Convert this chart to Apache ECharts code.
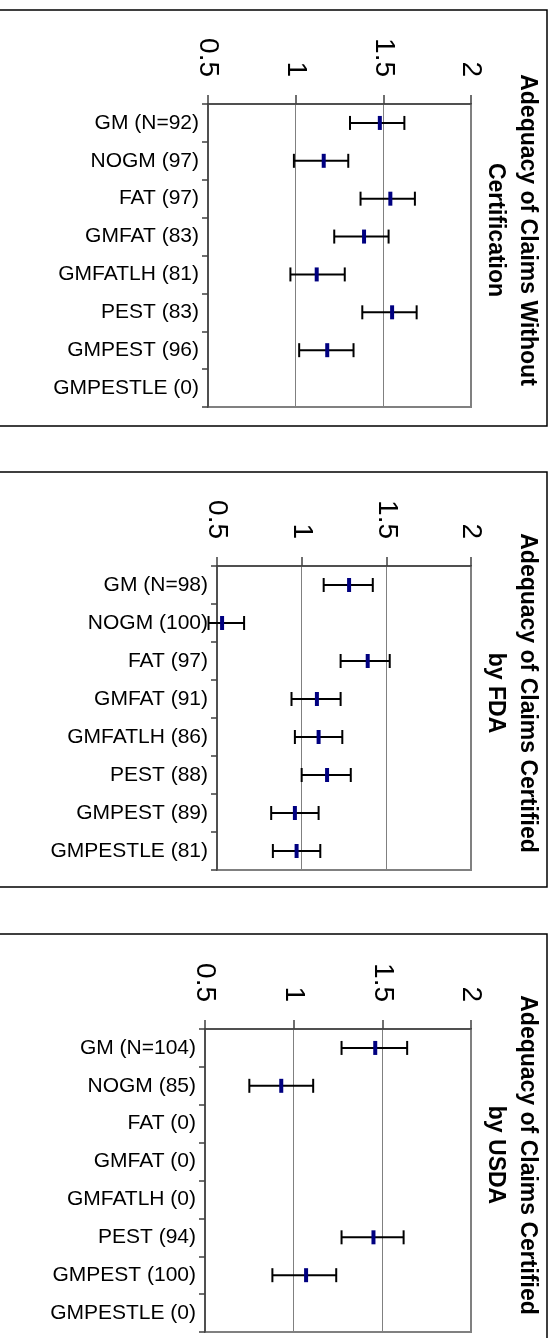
<!DOCTYPE html>
<html>
<head>
<meta charset="utf-8">
<title>Adequacy of Claims</title>
<script src="https://cdn.jsdelivr.net/npm/echarts@6/dist/echarts.min.js"></script>
<style>
  html, body { margin: 0; padding: 0; background: #fff; }
  #chart { width: 557px; height: 1338px; }
</style>
</head>
<body>
<div id="chart"></div>
<script>
// Value axis ticks shared by all three panels
const valueTicks = [0.5, 1, 1.5, 2];

// Panel 1: claims without certification
const titleNoCert = ['Adequacy of Claims Without', 'Certification'];
const catsNoCert = ['GM (N=92)', 'NOGM (97)', 'FAT (97)', 'GMFAT (83)', 'GMFATLH (81)', 'PEST (83)', 'GMPEST (96)', 'GMPESTLE (0)'];
const meanNoCert = [1.48, 1.16, 1.54, 1.39, 1.12, 1.55, 1.18, null];
const lowNoCert  = [1.31, 0.99, 1.37, 1.22, 0.97, 1.38, 1.02, null];
const highNoCert = [1.62, 1.30, 1.68, 1.53, 1.28, 1.69, 1.33, null];

// Panel 2: claims certified by FDA
const titleFda = ['Adequacy of Claims Certified', 'by FDA'];
const catsFda = ['GM (N=98)', 'NOGM (100)', 'FAT (97)', 'GMFAT (91)', 'GMFATLH (86)', 'PEST (88)', 'GMPEST (89)', 'GMPESTLE (81)'];
const meanFda = [1.28, 0.53, 1.39, 1.09, 1.10, 1.15, 0.96, 0.97];
const lowFda  = [1.13, 0.45, 1.23, 0.94, 0.96, 1.00, 0.82, 0.83];
const highFda = [1.42, 0.66, 1.52, 1.23, 1.24, 1.29, 1.10, 1.11];

// Panel 3: claims certified by USDA
const titleUsda = ['Adequacy of Claims Certified', 'by USDA'];
const catsUsda = ['GM (N=104)', 'NOGM (85)', 'FAT (0)', 'GMFAT (0)', 'GMFATLH (0)', 'PEST (94)', 'GMPEST (100)', 'GMPESTLE (0)'];
const meanUsda = [1.46, 0.93, null, null, null, 1.45, 1.07, null];
const lowUsda  = [1.27, 0.75, null, null, null, 1.27, 0.88, null];
const highUsda = [1.64, 1.11, null, null, null, 1.62, 1.24, null];

const FONT = '"Liberation Sans", Arial, Helvetica, sans-serif';

const panels = [
  { title: titleNoCert, cats: catsNoCert, mean: meanNoCert, low: lowNoCert, high: highNoCert,
    grid: { left: 208, top: 104, width: 263, height: 303 }, box: { y: 10, h: 416 }, titleY: 230 },
  { title: titleFda, cats: catsFda, mean: meanFda, low: lowFda, high: highFda,
    grid: { left: 217, top: 566, width: 254, height: 304 }, box: { y: 472, h: 415 }, titleY: 693 },
  { title: titleUsda, cats: catsUsda, mean: meanUsda, low: lowUsda, high: highUsda,
    grid: { left: 205, top: 1029, width: 266, height: 303 }, box: { y: 934, h: 430 }, titleY: 1155 }
];

// Whisker from low to high with end caps, plus a short navy bar at the mean
function errorBar(params, api) {
  const cat = api.value(0);
  const pMean = api.coord([api.value(1), cat]);
  const pLow = api.coord([api.value(2), cat]);
  const pHigh = api.coord([api.value(3), cat]);
  const y = pMean[1];
  const stroke = { stroke: '#000', lineWidth: 2 };
  return {
    type: 'group',
    children: [
      { type: 'line', shape: { x1: pLow[0], y1: y, x2: pHigh[0], y2: y }, style: stroke },
      { type: 'line', shape: { x1: pLow[0], y1: y - 7, x2: pLow[0], y2: y + 7 }, style: stroke },
      { type: 'line', shape: { x1: pHigh[0], y1: y - 7, x2: pHigh[0], y2: y + 7 }, style: stroke },
      { type: 'rect', shape: { x: pMean[0] - 2, y: y - 7, width: 4, height: 14 }, style: { fill: '#000080' } }
    ]
  };
}

const grids = [], xAxes = [], yAxes = [], series = [], graphics = [];

panels.forEach((p, k) => {
  grids.push(Object.assign({ show: true, borderColor: '#808080', borderWidth: 2, backgroundColor: 'transparent' }, p.grid));

  xAxes.push({
    type: 'value', gridIndex: k, position: 'top',
    min: valueTicks[0], max: valueTicks[valueTicks.length - 1], interval: valueTicks[1] - valueTicks[0],
    axisLine: { show: true, lineStyle: { color: '#404040', width: 1.5 } },
    axisTick: { show: true, length: 9, lineStyle: { color: '#404040', width: 1.5 } },
    axisLabel: { rotate: 90, margin: 27, fontSize: 28, color: '#000', fontFamily: FONT },
    splitLine: { show: true, lineStyle: { color: '#808080', width: 1 } }
  });

  yAxes.push({
    type: 'category', gridIndex: k, data: p.cats, inverse: true,
    axisLine: { show: true, lineStyle: { color: '#404040', width: 1.5 } },
    axisTick: { show: true, length: 6, lineStyle: { color: '#404040', width: 1.5 } },
    axisLabel: { fontSize: 21, color: '#000', margin: 9, fontFamily: FONT },
    splitLine: { show: false }
  });

  const data = [];
  p.cats.forEach((c, i) => {
    if (p.mean[i] != null) data.push([i, p.mean[i], p.low[i], p.high[i]]);
  });

  series.push({
    type: 'custom', xAxisIndex: k, yAxisIndex: k, clip: false, silent: true,
    encode: { x: [1, 2, 3], y: 0 },
    renderItem: errorBar, data: data
  });

  // panel frame
  graphics.push({
    type: 'rect', z: -1, silent: true,
    shape: { x: -2, y: p.box.y, width: 549, height: p.box.h },
    style: { fill: 'none', stroke: '#000', lineWidth: 1.5 }
  });

  // two-line title, turned to read downwards
  [527, 495].forEach((x, j) => {
    graphics.push({
      type: 'text', x: x, y: p.titleY, rotation: -Math.PI / 2, silent: true,
      style: {
        text: p.title[j], fontSize: 23, fontWeight: 'bold', fontFamily: FONT,
        fill: '#000', align: 'center', verticalAlign: 'middle'
      }
    });
  });
});

const chart = echarts.init(document.getElementById('chart'), null, { renderer: 'canvas' });
chart.setOption({
  animation: false,
  backgroundColor: '#fff',
  textStyle: { fontFamily: FONT },
  grid: grids,
  xAxis: xAxes,
  yAxis: yAxes,
  series: series,
  graphic: graphics
});
</script>
</body>
</html>
